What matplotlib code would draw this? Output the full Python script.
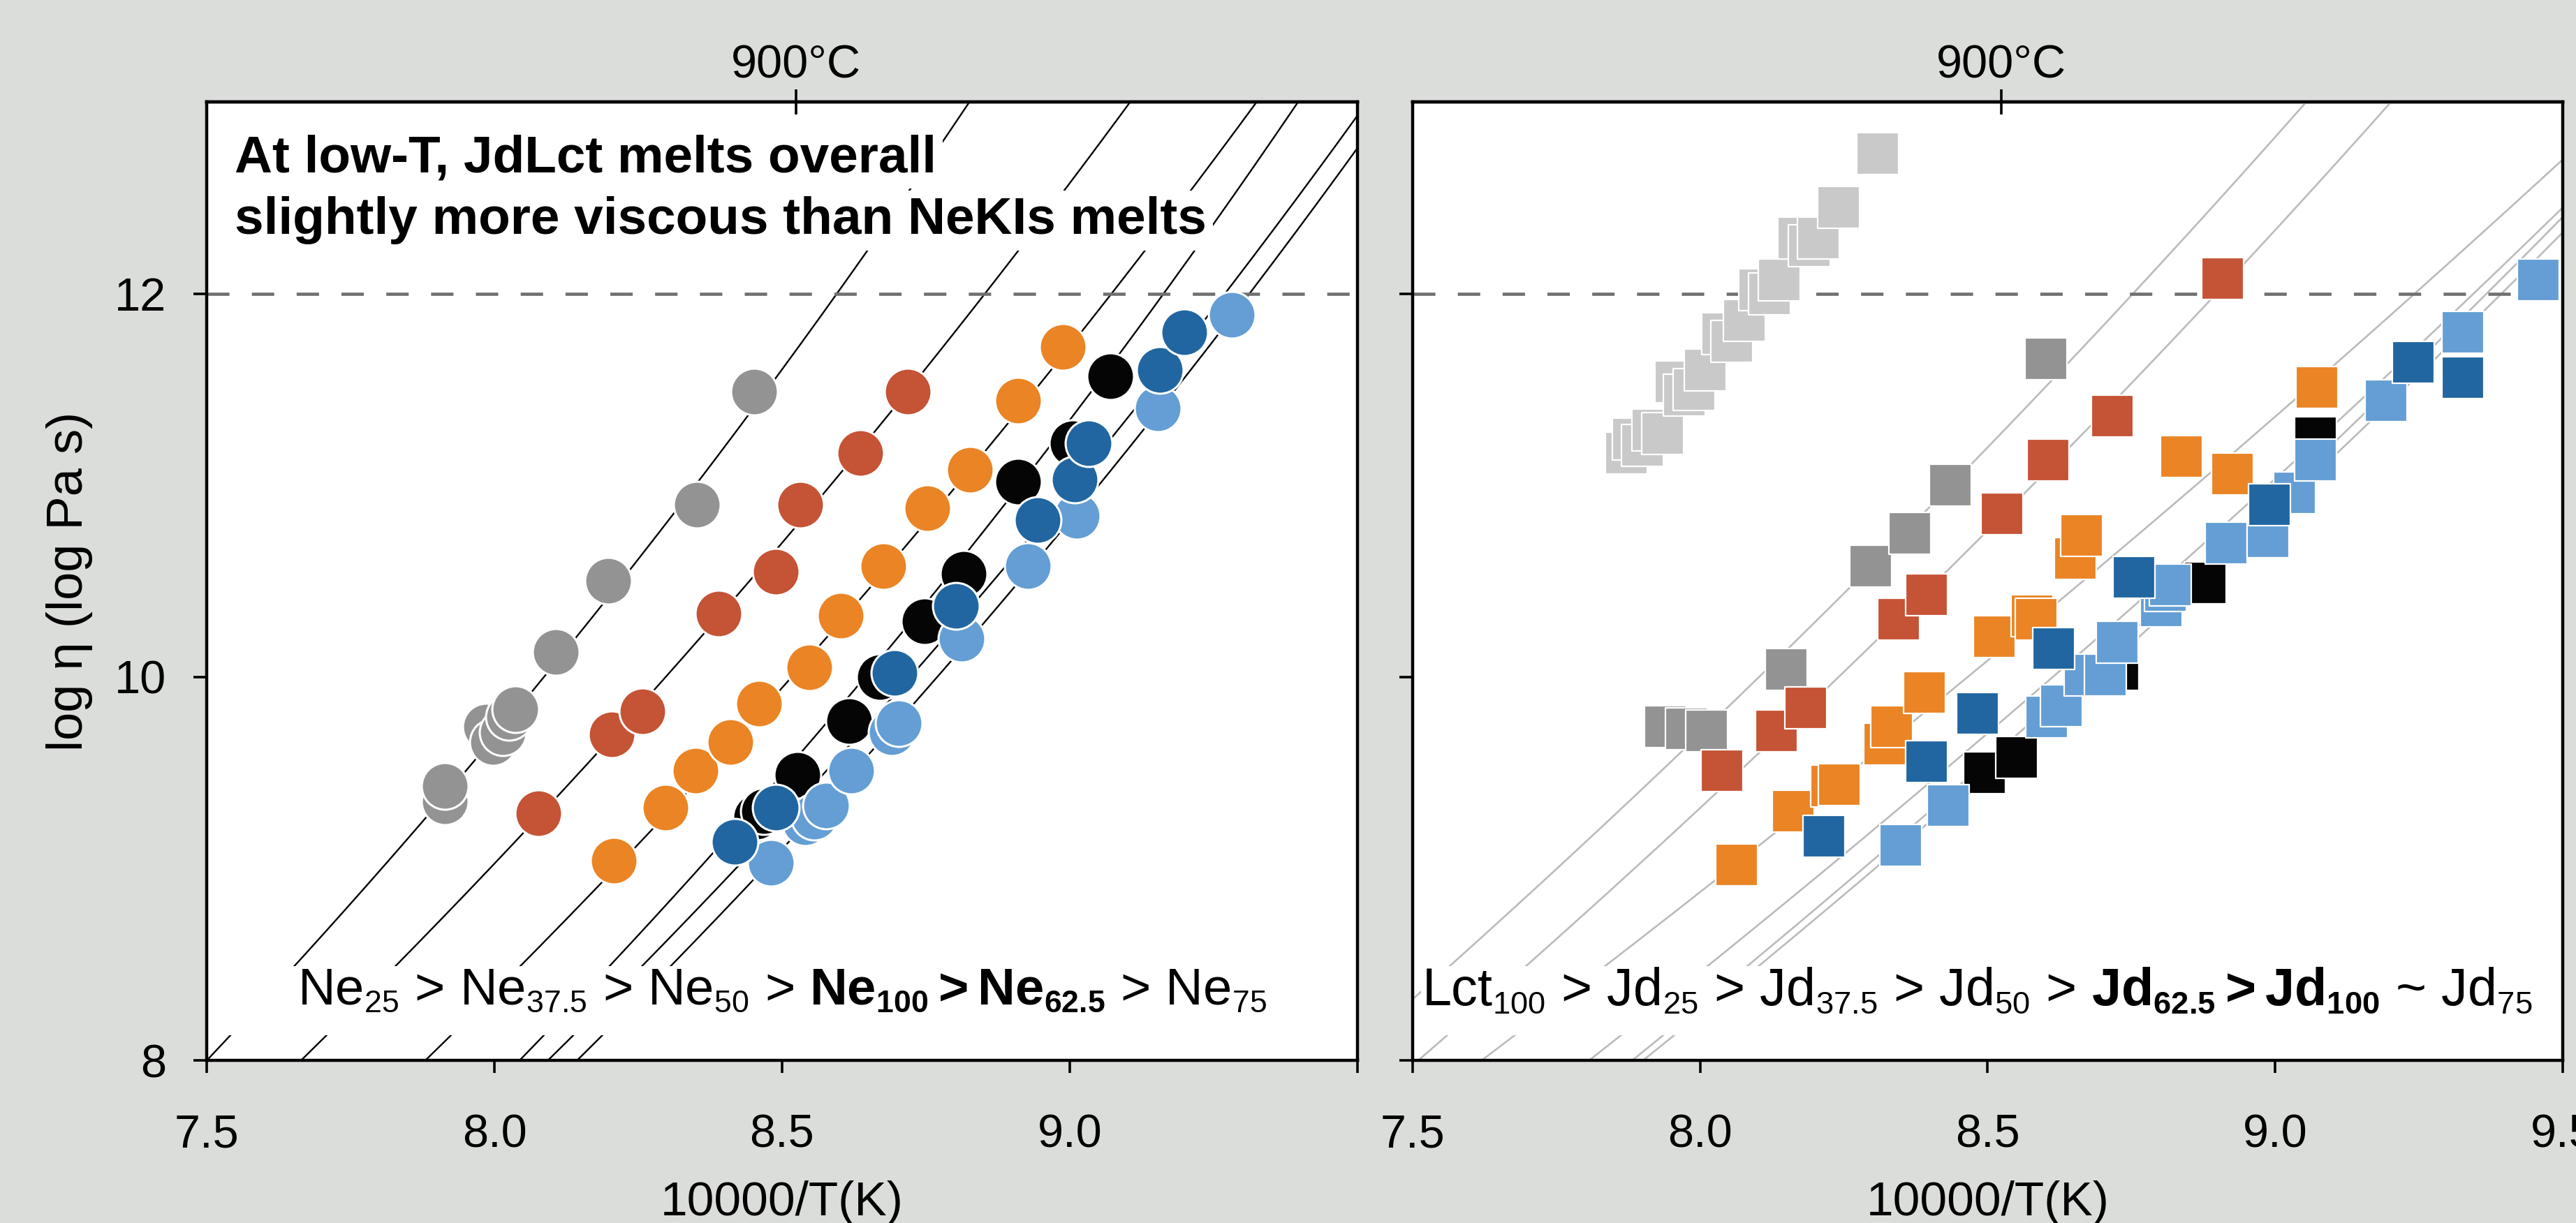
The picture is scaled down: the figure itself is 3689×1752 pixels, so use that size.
import numpy as np
import matplotlib
import matplotlib.pyplot as plt
from matplotlib.patches import Rectangle
import matplotlib._mathtext as mathtext_mod

# smaller subscripts, closer to the original artwork
mathtext_mod.SHRINK_FACTOR = 0.6

plt.rcParams['font.family'] = ['Liberation Sans', 'DejaVu Sans']
plt.rcParams['mathtext.fontset'] = 'custom'
plt.rcParams['mathtext.rm'] = 'Liberation Sans'
plt.rcParams['mathtext.it'] = 'Liberation Sans:italic'
plt.rcParams['mathtext.bf'] = 'Liberation Sans:bold'

# ---- left panel: NeKls melts (circles) ----
ne25_x = [7.914, 7.914, 7.986, 7.998, 8.014, 8.025, 8.036, 8.107, 8.198, 8.352, 8.452]
ne25_y = [9.35, 9.43, 9.74, 9.66, 9.71, 9.79, 9.83, 10.13, 10.50, 10.90, 11.49]
ne375_x = [8.077, 8.204, 8.257, 8.389, 8.489, 8.532, 8.636, 8.718]
ne375_y = [9.29, 9.70, 9.82, 10.33, 10.55, 10.90, 11.17, 11.49]
ne50_x = [8.208, 8.297, 8.350, 8.410, 8.460, 8.547, 8.602, 8.676, 8.753, 8.826, 8.910, 8.988]
ne50_y = [9.04, 9.32, 9.51, 9.66, 9.86, 10.05, 10.32, 10.58, 10.88, 11.08, 11.44, 11.72]
ne100_x = [8.455, 8.468, 8.527, 8.617, 8.670, 8.748, 8.815, 8.910, 9.005, 9.070]
ne100_y = [9.27, 9.30, 9.49, 9.77, 10.00, 10.29, 10.54, 11.02, 11.22, 11.57]
ne75_x = [8.481, 8.540, 8.556, 8.577, 8.620, 8.691, 8.703, 8.812, 8.927, 9.012, 9.153, 9.281]
ne75_y = [9.03, 9.24, 9.27, 9.33, 9.51, 9.71, 9.76, 10.20, 10.58, 10.84, 11.40, 11.89]
ne625_x = [8.417, 8.489, 8.695, 8.802, 8.944, 9.009, 9.033, 9.157, 9.199]
ne625_y = [9.14, 9.32, 10.02, 10.37, 10.82, 11.03, 11.22, 11.60, 11.80]

# VFT fit parameters (A fixed), log eta = A + B / (T - C)
vft_a = -4.55
ne_fit_b = [8820, 9096, 8661, 7885, 8144, 8001]
ne_fit_c = [630.5, 580.0, 578.9, 614.9, 586.7, 590.4]

# ---- right panel: JdLct melts (squares) ----
lct100_x = [7.872, 7.884, 7.900, 7.918, 7.935, 7.958, 7.973, 7.990, 8.009, 8.039,
            8.055, 8.077, 8.104, 8.120, 8.138, 8.171, 8.190, 8.206, 8.241, 8.309]
lct100_y = [11.17, 11.24, 11.21, 11.29, 11.27, 11.54, 11.47, 11.50, 11.60, 11.79,
            11.75, 11.86, 12.02, 12.00, 12.07, 12.29, 12.25, 12.29, 12.45, 12.73]
jd25_x = [7.940, 7.976, 8.011, 8.150, 8.297, 8.365, 8.435, 8.602]
jd25_y = [9.74, 9.73, 9.72, 10.04, 10.58, 10.75, 11.00, 11.66]
jd375_x = [8.038, 8.133, 8.184, 8.345, 8.394, 8.525, 8.605, 8.717, 8.909]
jd375_y = [9.51, 9.72, 9.84, 10.30, 10.43, 10.85, 11.13, 11.36, 12.08]
jd50_x = [8.064, 8.162, 8.229, 8.242, 8.321, 8.333, 8.390, 8.512, 8.577, 8.585,
          8.653, 8.663, 8.837, 8.926, 9.072]
jd50_y = [9.02, 9.30, 9.43, 9.44, 9.65, 9.74, 9.92, 10.21, 10.32, 10.30,
          10.62, 10.74, 11.15, 11.06, 11.51]
jd100_x = [8.495, 8.550, 8.726, 8.803, 8.878, 9.070]
jd100_y = [9.50, 9.58, 10.04, 10.39, 10.49, 11.25]
jd75_x = [8.349, 8.431, 8.603, 8.628, 8.669, 8.705, 8.725, 8.802, 8.809, 8.817,
          8.915, 8.987, 9.034, 9.070, 9.193, 9.326, 9.458]
jd75_y = [9.12, 9.33, 9.79, 9.85, 10.01, 10.01, 10.18, 10.37, 10.45, 10.48,
          10.70, 10.73, 10.96, 11.13, 11.44, 11.80, 12.07]
jd625_x = [8.215, 8.394, 8.482, 8.615, 8.754, 8.990, 9.240, 9.326]
jd625_y = [9.17, 9.56, 9.81, 10.15, 10.52, 10.90, 11.64, 11.56]

jd_fit_b = [11042, 10784, 11963, 10946, 10448, 10444]
jd_fit_c = [475.3, 472.3, 359.1, 408.7, 436.2, 433.5]

c_gray = '#939393'
c_red = '#C55335'
c_orange = '#EA8424'
c_black = '#050505'
c_dblue = '#2166A0'
c_lblue = '#649ED4'
c_lct = '#C9C9C9'
bg = '#DBDDDA'


def vft(x, b, c):
    return vft_a + b / (10000.0 / x - c)


fig = plt.figure(figsize=(18.445, 8.76), dpi=200, facecolor=bg)
axL = fig.add_axes([0.08024, 0.13299, 0.44673, 0.78368])
axR = fig.add_axes([0.54838, 0.13299, 0.44646, 0.78368])

xx = np.linspace(7.3, 9.7, 400)

for ax in (axL, axR):
    ax.set_xlim(7.5, 9.5)
    ax.set_ylim(8, 13)
    ax.set_xticks([7.5, 8.0, 8.5, 9.0, 9.5])
    ax.set_yticks([8, 10, 12])
    for s in ax.spines.values():
        s.set_linewidth(1.6)
    ax.tick_params(axis='x', direction='out', length=6.5, width=1.3, pad=21, labelsize=24)
    ax.tick_params(axis='y', direction='out', length=6.8, width=1.3, pad=14, labelsize=24)
    ax.axhline(12, color='#707070', lw=1.65, dashes=(7, 7), zorder=1.5)
    ax.set_xlabel('10000/T(K)', fontsize=25, labelpad=12)
    top = ax.secondary_xaxis('top')
    top.set_ticks([10000 / 1173.15])
    top.set_xticklabels(['900°C'])
    top.tick_params(direction='inout', length=13, width=1.3, pad=1, labelsize=24)
    top.spines['top'].set_linewidth(1.6)

axL.set_xticklabels(['7.5', '8.0', '8.5', '9.0', ''])
axR.set_xticklabels(['7.5', '8.0', '8.5', '9.0', '9.5'])
axR.set_yticklabels([])
axL.set_ylabel('log η (log Pa s)', fontsize=26, labelpad=11)

# left panel fits and points
for b, c in zip(ne_fit_b, ne_fit_c):
    axL.plot(xx, vft(xx, b, c), color='black', lw=0.85, zorder=1)

circ = dict(s=580, marker='o', edgecolors='white', linewidths=1.1, zorder=4)
axL.scatter(ne25_x, ne25_y, color=c_gray, **circ)
axL.scatter(ne375_x, ne375_y, color=c_red, **circ)
axL.scatter(ne50_x, ne50_y, color=c_orange, **circ)
axL.scatter(ne100_x, ne100_y, color=c_black, **circ)
axL.scatter(ne75_x, ne75_y, color=c_lblue, **circ)
axL.scatter(ne625_x, ne625_y, color=c_dblue, **circ)

box = dict(boxstyle='square,pad=0.12', fc='white', ec='none')
axL.text(7.549, 12.634, 'At low-T, JdLct melts overall', fontsize=26.9,
         fontweight='bold', va='baseline', bbox=box, zorder=3)
axL.text(7.549, 12.31, 'slightly more viscous than NeKIs melts', fontsize=26.9,
         fontweight='bold', va='baseline', bbox=box, zorder=3)

axL.add_patch(Rectangle((7.52, 8.13), 1.9, 0.36, fc='white', ec='none', zorder=2))
axL.text(8.50, 8.289,
         r'Ne$_{25}$ > Ne$_{37.5}$ > Ne$_{50}$ > $\mathbf{Ne_{100}>Ne_{62.5}}$ > Ne$_{75}$',
         ha='center', va='baseline', fontsize=26.8, zorder=3)

# right panel fits and points
for b, c in zip(jd_fit_b, jd_fit_c):
    axR.plot(xx, vft(xx, b, c), color='#BBBBBB', lw=0.95, zorder=1)

sq = dict(s=458, marker='s', edgecolors='white', linewidths=0.8, zorder=4)
axR.scatter(lct100_x, lct100_y, color=c_lct, **sq)
axR.scatter(jd25_x, jd25_y, color=c_gray, **sq)
axR.scatter(jd375_x, jd375_y, color=c_red, **sq)
axR.scatter(jd50_x, jd50_y, color=c_orange, **sq)
axR.scatter(jd100_x, jd100_y, color=c_black, **sq)
axR.scatter(jd75_x, jd75_y, color=c_lblue, **sq)
axR.scatter(jd625_x, jd625_y, color=c_dblue, **sq)

axR.add_patch(Rectangle((7.515, 8.13), 1.96, 0.36, fc='white', ec='none', zorder=2))
axR.text(8.481, 8.289,
         r'Lct$_{100}$ > Jd$_{25}$ > Jd$_{37.5}$ > Jd$_{50}$ > $\mathbf{Jd_{62.5}>Jd_{100}}$ ~ Jd$_{75}$',
         ha='center', va='baseline', fontsize=27.2, zorder=3)

fig.savefig('out.png', dpi=200, facecolor=bg)
